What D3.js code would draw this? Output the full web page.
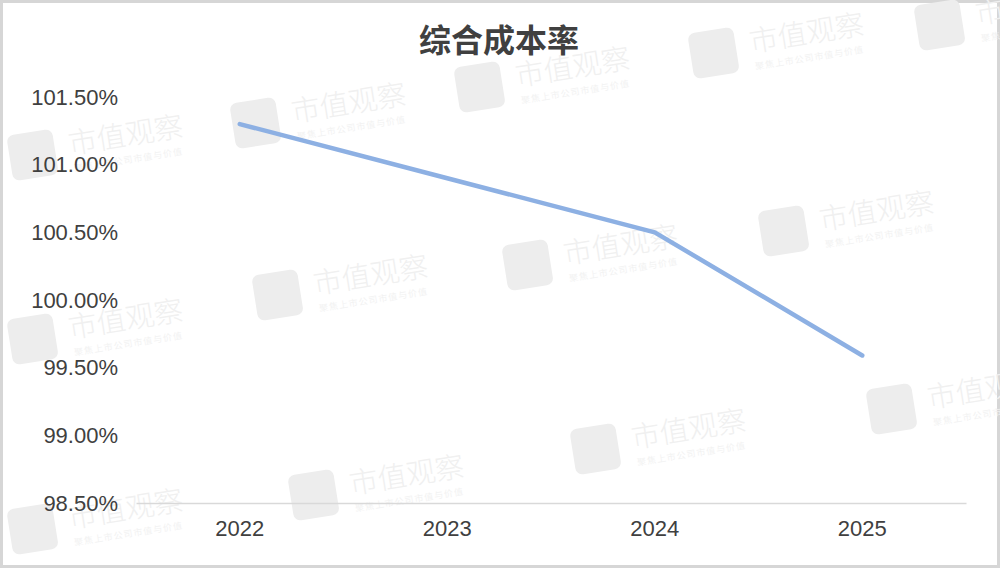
<!DOCTYPE html>
<html>
<head>
<meta charset="utf-8">
<script src="https://cdn.jsdelivr.net/npm/d3@7"></script>
<style>
  html, body { margin: 0; padding: 0; background: #fff; }
  svg { display: block; }
</style>
</head>
<body>
<script>
// chart data
const years = ['2022', '2023', '2024', '2025'];
const costRatio = [101.30, 100.90, 100.50, 99.59];
const yTicks = [98.5, 99.0, 99.5, 100.0, 100.5, 101.0, 101.5];
const title = '综合成本率';

// faint "市值观察" watermark spots (decoration only)
const watermarks = [
  [5, 128], [228, 96], [452, 60], [686, 26], [912, -2],
  [250, 268], [500, 238], [756, 204],
  [5, 312], [568, 422], [286, 468], [864, 382], [5, 502]
];

const width = 1000, height = 568;

const svg = d3.select('body').append('svg')
  .attr('width', width)
  .attr('height', height);

svg.append('rect')
  .attr('x', 1.5).attr('y', 1.5)
  .attr('width', width - 3).attr('height', height - 3)
  .attr('fill', '#fff')
  .attr('stroke', '#d6d6d6')
  .attr('stroke-width', 3);

// watermarks go under everything else
let gMark = svg.append('g').attr('fill', '#f0f0f0');
watermarks.forEach(function([wx, wy]) {
  let g = gMark.append('g')
    .attr('transform', `translate(${wx},${wy}) rotate(-9)`);
  g.append('rect')
    .attr('x', 0).attr('y', 8)
    .attr('width', 46).attr('height', 46)
    .attr('rx', 7)
    .attr('fill', '#ededed');
  g.append('text')
    .attr('x', 60).attr('y', 36)
    .attr('font-family', 'Noto Sans CJK SC')
    .attr('font-weight', 300)
    .attr('font-size', 29)
    .text('市值观察');
  g.append('text')
    .attr('x', 62).attr('y', 54)
    .attr('font-family', 'Noto Sans CJK SC')
    .attr('font-size', 9)
    .attr('letter-spacing', 1)
    .attr('fill', '#f2f2f2')
    .text('聚焦上市公司市值与价值');
});

let x = d3.scaleBand()
  .domain(years)
  .range([136, 966])
  .padding(0);

let y = d3.scaleLinear()
  .domain([98.5, 101.5])
  .range([503, 97]);

// x axis: light baseline, labels only
let gx = svg.append('g')
  .attr('transform', `translate(0,${y(98.5)})`)
  .call(d3.axisBottom(x).tickSize(0).tickPadding(17));
gx.select('.domain').attr('stroke', '#d9d9d9').attr('stroke-width', 1.5);
gx.selectAll('text')
  .attr('font-family', 'Liberation Sans, Arial, sans-serif')
  .attr('font-size', 22)
  .attr('fill', '#404040');

// y axis: labels only
let gy = svg.append('g')
  .attr('transform', 'translate(118,0)')
  .call(d3.axisLeft(y).tickValues(yTicks).tickSize(0).tickPadding(0)
    .tickFormat(d => d.toFixed(2) + '%'));
gy.select('.domain').remove();
gy.selectAll('text')
  .attr('font-family', 'Liberation Sans, Arial, sans-serif')
  .attr('font-size', 22)
  .attr('fill', '#404040');

let line = d3.line()
  .x((d, i) => x(years[i]) + x.bandwidth() / 2)
  .y(d => y(d));

svg.append('path')
  .datum(costRatio)
  .attr('d', line)
  .attr('fill', 'none')
  .attr('stroke', '#8db0e3')
  .attr('stroke-width', 4.5)
  .attr('stroke-linecap', 'round')
  .attr('stroke-linejoin', 'round');

svg.append('text')
  .attr('x', 499)
  .attr('y', 52)
  .attr('text-anchor', 'middle')
  .attr('font-family', 'Noto Sans CJK SC')
  .attr('font-weight', 'bold')
  .attr('font-size', 32)
  .attr('fill', '#404040')
  .text(title);
</script>
</body>
</html>
